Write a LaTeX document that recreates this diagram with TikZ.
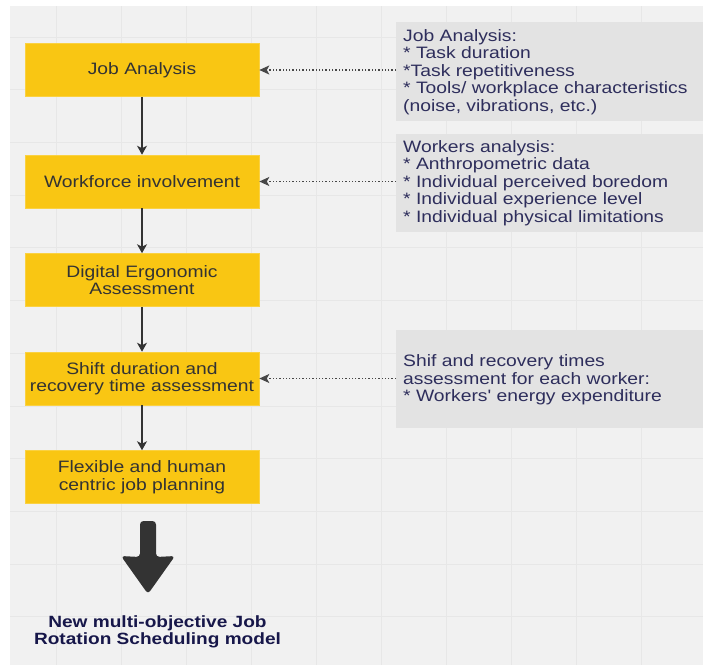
\documentclass[tikz,border=0pt]{standalone}
\usepackage{fontspec}
\setmainfont{Liberation Sans}
\newfontfamily\af[FakeStretch=1.17]{Liberation Sans}
\usetikzlibrary{arrows.meta}
\definecolor{bgc}{HTML}{F1F1F1}
\definecolor{gridc}{HTML}{E7E7E7}
\definecolor{yel}{HTML}{F9C613}
\definecolor{graybox}{HTML}{E3E3E3}
\definecolor{darkc}{HTML}{333333}
\definecolor{navyc}{HTML}{2E2E5C}
\definecolor{navyb}{HTML}{17174A}
\tikzset{
  x=1pt,y=-1pt,
  ybox/.style={fill=yel,draw=yel!80!white,line width=0.6pt,minimum width=234pt,minimum height=53pt,inner sep=0pt,align=center,text=darkc,font=\af\fontsize{16.5}{17.5}\selectfont},
  gbox/.style={fill=graybox,draw=none,inner sep=0pt,anchor=north west},
  gtext/.style={anchor=west,align=left,inner sep=0pt,text=navyc,font=\af\fontsize{16.5}{17.5}\selectfont},
  flow/.style={draw=darkc,line width=1.4pt,-{Stealth[length=9pt,width=10pt,inset=2.5pt]}},
  dotarrow/.style={draw=darkc!90,line width=1.3pt,dotted,-{Stealth[length=10pt,width=9pt,inset=2.5pt]}},
}
\begin{document}
\begin{tikzpicture}
\useasboundingbox (0,0) rectangle (703,665);
\fill[white] (0,0) rectangle (703,665);
\fill[bgc] (10,6) rectangle (703,665);
% grid
\foreach \k in {0,...,9} {\draw[gridc,line width=0.8pt] ({56+65*\k},6) -- ({56+65*\k},665);}
\foreach \k in {0,...,11} {\draw[gridc,line width=0.8pt] (10,{37+52.7*\k}) -- (703,{37+52.7*\k});}

% gray info boxes
\node[gbox,minimum width=307pt,minimum height=99pt] (g1) at (396,22) {};
\node[gbox,minimum width=307pt,minimum height=98pt] (g2) at (396,134) {};
\node[gbox,minimum width=307pt,minimum height=98pt] (g3) at (396,330) {};

\node[gtext] (t1) at (403,72) {Job Analysis:\\* Task duration\\*Task repetitiveness\\* Tools/ workplace characteristics\\(noise, vibrations, etc.)};
\node[gtext] (t2) at (403,183) {Workers analysis:\\* Anthropometric data\\* Individual perceived boredom\\* Individual experience level\\* Individual physical limitations};
\node[gtext] (t3) at (403,380) {Shif and recovery times\\assessment for each worker:\\* Workers' energy expenditure};

% yellow boxes
\node[ybox] (b1) at (142,70) {\raisebox{-1.5pt}{Job Analysis}};
\node[ybox] (b2) at (142,181.5) {\raisebox{-1.5pt}{Workforce involvement}};
\node[ybox] (b3) at (142,280) {Digital Ergonomic\\Assessment};
\node[ybox] (b4) at (142,378.5) {Shift duration and\\recovery time assessment};
\node[ybox] (b5) at (142,477) {Flexible and human\\centric job planning};

% flow arrows
\draw[flow] (b1.south) -- (b2.north);
\draw[flow] (b2.south) -- (b3.north);
\draw[flow] (b3.south) -- (b4.north);
\draw[flow] (b4.south) -- (b5.north);

% dotted arrows
\draw[dotarrow] (g1.west |- b1.east) -- (b1.east);
\draw[dotarrow] (g2.west |- b2.east) -- (b2.east);
\draw[dotarrow] (g3.west |- b4.east) -- (b4.east);

% big arrow
\fill[darkc,rounded corners=3.5pt] (140,521) -- (156,521) -- (156,557) -- (175,556) -- (148,594) -- (121,556) -- (140,557) -- cycle;

% result text
\node[align=center,inner sep=0pt,text=navyb,font=\af\bfseries\fontsize{16.3}{17}\selectfont] (res) at (157.5,631.5) {New multi-objective Job\\Rotation Scheduling model};
\end{tikzpicture}
\end{document}
